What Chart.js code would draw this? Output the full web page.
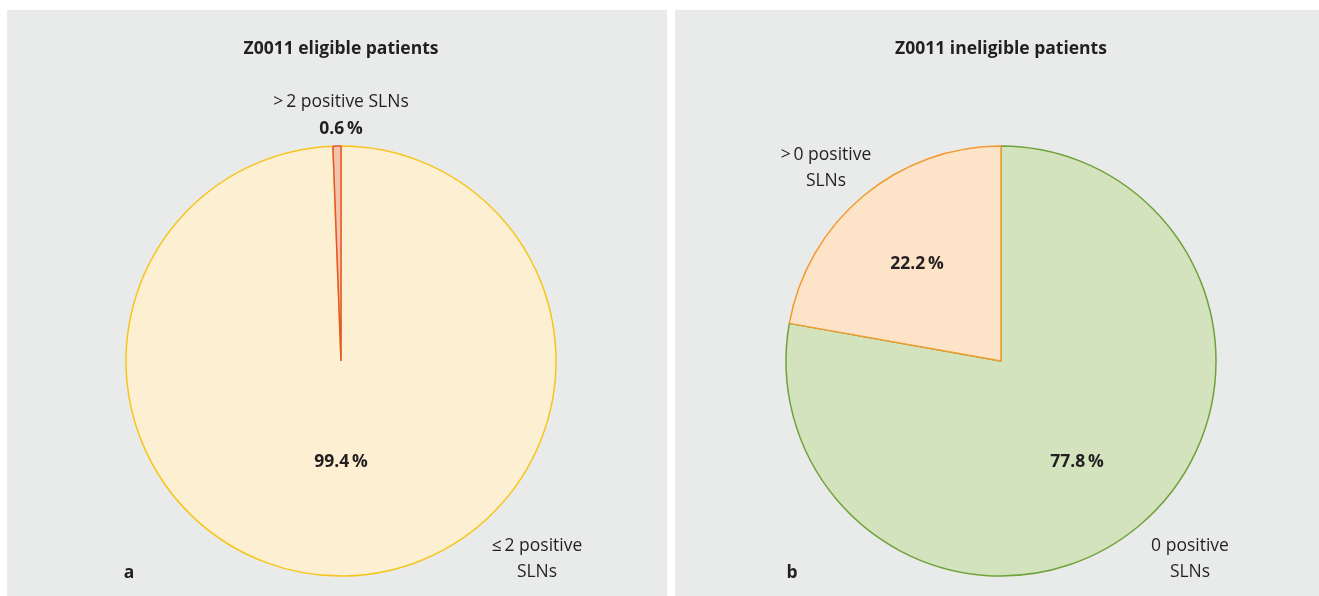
<!DOCTYPE html>
<html>
<head>
<meta charset="utf-8">
<script src="https://cdn.jsdelivr.net/npm/chart.js@4"></script>
<style>
  body { margin: 0; background: #ffffff; width: 1319px; height: 596px; position: relative; overflow: hidden; }
  .panel { position: absolute; top: 10px; height: 586px; background: #e9ebea; }
  #panelA { left: 7px; width: 660px; }
  #panelB { left: 675px; width: 644px; }
</style>
</head>
<body>
<div class="panel" id="panelA"><canvas id="chartA"></canvas></div>
<div class="panel" id="panelB"><canvas id="chartB"></canvas></div>
<script>
// data
const titleA = "Z0011 eligible patients";
const categoriesA = [["\u2264\u20092 positive", "SLNs"], [">\u20092 positive SLNs"]];
const valuesA = [99.4, 0.6];

const titleB = "Z0011 ineligible patients";
const categoriesB = [["0 positive", "SLNs"], [">\u20090 positive", "SLNs"]];
const valuesB = [77.8, 22.2];

const FONT = "'Open Sans', 'DejaVu Sans', sans-serif";
const TEXT = "#231f20";
const SIZE = 17.5;

// label placement, relative to the pie centre (px)
const placeA = [
  { name: [196, 185], value: [0, 101] },
  { name: [0, -259], value: [0, -232] },
];
const placeB = [
  { name: [189, 185], value: [76, 101] },
  { name: [-175, -206], value: [-84, -97] },
];

const labelPlugin = {
  id: "sliceLabels",
  afterDraw(chart, args, opts) {
    const ctx = chart.ctx;
    const meta = chart.getDatasetMeta(0);
    const cx = meta.data[0].x;
    const cy = meta.data[0].y;
    ctx.save();
    ctx.fillStyle = TEXT;
    ctx.textAlign = "center";
    ctx.textBaseline = "middle";

    // title
    ctx.font = "bold " + SIZE + "px " + FONT;
    ctx.fillText(opts.title, cx, 39);

    // panel letter
    ctx.fillText(opts.letter, opts.letterX, 563);

    const values = chart.data.datasets[0].data;
    chart.data.labels.forEach((lines, i) => {
      const p = opts.place[i];
      ctx.font = SIZE + "px " + FONT;
      lines.forEach((line, j) => {
        ctx.fillText(line, cx + p.name[0], cy + p.name[1] + j * 26);
      });
      ctx.font = "bold " + SIZE + "px " + FONT;
      ctx.fillText(values[i].toFixed(1) + "\u2009%", cx + p.value[0], cy + p.value[1]);
    });
    ctx.restore();
  },
};

function createPie(canvasId, labels, data, fills, borders, padding, opts) {
  return new Chart(document.getElementById(canvasId), {
    type: "pie",
    data: {
      labels: labels,
      datasets: [{
        data: data,
        backgroundColor: fills,
        borderColor: borders,
        borderWidth: 1.5,
      }],
    },
    options: {
      responsive: true,
      maintainAspectRatio: false,
      animation: false,
      radius: 215,
      layout: { padding: padding },
      plugins: {
        legend: { display: false },
        tooltip: { enabled: false },
        title: { display: false },
        sliceLabels: opts,
      },
    },
    plugins: [labelPlugin],
  });
}

createPie("chartA", categoriesA, valuesA,
  ["#fdefd1", "#f3c4ae"], ["#f6c51c", "#e6552b"],
  { left: 114, right: 106, top: 131, bottom: 15 },
  { title: titleA, letter: "a", letterX: 122, place: placeA });

createPie("chartB", categoriesB, valuesB,
  ["#d3e3bd", "#fde3c8"], ["#6fa23a", "#f39a2d"],
  { left: 106, right: 98, top: 131, bottom: 15 },
  { title: titleB, letter: "b", letterX: 117, place: placeB });
</script>
</body>
</html>
